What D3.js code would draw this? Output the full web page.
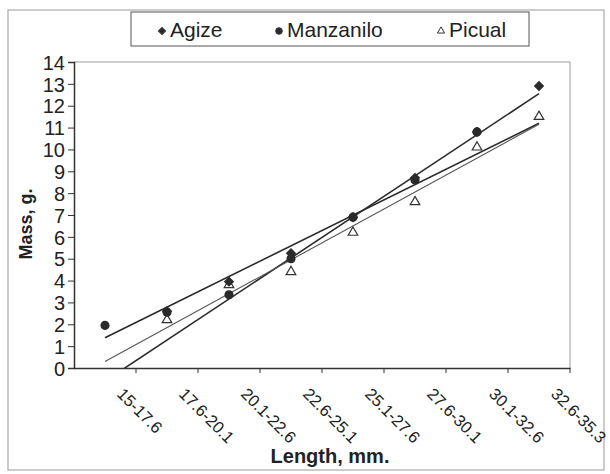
<!DOCTYPE html>
<html>
<head>
<meta charset="utf-8">
<script src="https://cdn.jsdelivr.net/npm/d3@7"></script>
<style>
  body { margin: 0; background: #fff; }
  text { font-family: "Liberation Sans", Arial, sans-serif; fill: #222; }
</style>
</head>
<body>
<div id="chart"></div>
<script>
const categories = ["15-17.6", "17.6-20.1", "20.1-22.6", "22.6-25.1", "25.1-27.6", "27.6-30.1", "30.1-32.6", "32.6-35.3"];
const yTicks = d3.range(0, 15);

// values (null = no visible marker)
const agize = [null, 2.6, 3.95, 5.25, 6.9, 8.7, 10.8, 12.9];
const manzanilo = [1.95, 2.55, 3.35, 5.0, 6.9, 8.6, 10.8, null];
const picual = [null, 2.2, 3.8, 4.4, 6.2, 7.6, 10.1, 11.5];

// trend lines: [value at first category, value at last category]
const agizeTrend = [-0.6, 12.55];
const manzaniloTrend = [1.38, 11.2];
const picualTrend = [0.3, 11.15];

const W = 610, H = 474;
const plot = { left: 74, right: 570, top: 62, bottom: 368 };

const svg = d3.select("#chart").append("svg")
  .attr("width", W).attr("height", H);

// outer frame
svg.append("rect")
  .attr("x", 8).attr("y", 10).attr("width", 596).attr("height", 460)
  .attr("fill", "#fff").attr("stroke", "#999").attr("stroke-width", 1);

const x = d3.scaleBand().domain(categories).range([plot.left, plot.right]);
const y = d3.scaleLinear().domain([0, 14]).range([plot.bottom, plot.top]);
const cx = i => x(categories[i]) + x.bandwidth() / 2;

// plot frame (top / right)
svg.append("path")
  .attr("d", `M${plot.left},${plot.top}H${plot.right}V${plot.bottom}`)
  .attr("fill", "none").attr("stroke", "#999");

// y axis
const yAxis = svg.append("g")
  .attr("transform", `translate(${plot.left},0)`)
  .call(d3.axisLeft(y).tickValues(yTicks).tickSize(6).tickPadding(3));
yAxis.select(".domain").attr("stroke", "#333").attr("stroke-width", 1.5);
yAxis.selectAll(".tick line").attr("stroke", "#333");
yAxis.selectAll("text")
  .attr("font-size", 20)
  .attr("font-family", "Liberation Sans Narrow, Liberation Sans, Arial, sans-serif")
  .attr("fill", "#222")
  .attr("dy", "0.36em");

// x axis
const xAxis = svg.append("g")
  .attr("transform", `translate(0,${plot.bottom})`)
  .call(d3.axisBottom(x).tickSize(0).tickFormat(""));
xAxis.select(".domain").attr("stroke", "#333").attr("stroke-width", 1.5);
xAxis.selectAll(".tick").remove();
categories.forEach((c, i) => {
  if (i === 0) return;
  const bx = x(c);
  xAxis.append("line").attr("x1", bx).attr("x2", bx).attr("y1", 0).attr("y2", 5).attr("stroke", "#333");
});
xAxis.append("line").attr("x1", plot.right).attr("x2", plot.right).attr("y1", 0).attr("y2", 5).attr("stroke", "#333");

svg.append("g").selectAll("text")
  .data(categories).join("text")
  .attr("transform", (d, i) => `translate(${cx(i) + 11},${plot.bottom + 27}) rotate(45)`)
  .attr("font-size", 16.5)
  .text(d => d);

// axis titles
svg.append("text")
  .attr("transform", `translate(32,224) rotate(-90)`)
  .attr("text-anchor", "middle")
  .attr("font-size", 18).attr("font-weight", "bold")
  .text("Mass, g.");

svg.append("text")
  .attr("x", 330).attr("y", 463)
  .attr("text-anchor", "middle")
  .attr("font-size", 20).attr("font-weight", "bold")
  .text("Length, mm.");

// trend lines, clipped to the plot area
svg.append("clipPath").attr("id", "plotclip")
  .append("rect").attr("x", plot.left).attr("y", plot.top)
  .attr("width", plot.right - plot.left).attr("height", plot.bottom - plot.top);

const lines = svg.append("g").attr("clip-path", "url(#plotclip)");
[[agizeTrend, "#2a2a2a", 1.6], [manzaniloTrend, "#2a2a2a", 1.6], [picualTrend, "#555", 1.1]].forEach(([v, s, w]) => {
  lines.append("line")
    .attr("x1", cx(0)).attr("y1", y(v[0]))
    .attr("x2", cx(categories.length - 1)).attr("y2", y(v[1]))
    .attr("stroke", s).attr("stroke-width", w);
});

// markers
const diamond = d3.symbol().type(d3.symbolSquare).size(38);
const circle = d3.symbol().type(d3.symbolCircle).size(50);
const triangle = d3.symbol().type(d3.symbolTriangle).size(40);

const pts = (vals, sym, fill, stroke, rot) => {
  svg.append("g").selectAll("path")
    .data(vals.map((v, i) => ({ v, i })).filter(d => d.v !== null))
    .join("path")
    .attr("transform", d => `translate(${cx(d.i)},${y(d.v)}) rotate(${rot})`)
    .attr("d", sym)
    .attr("fill", fill).attr("stroke", stroke).attr("stroke-width", 1.2);
};
pts(picual, triangle, "#fff", "#333", 0);
pts(manzanilo, circle, "#2a2a2a", "#2a2a2a", 0);
pts(agize, diamond, "#2a2a2a", "#2a2a2a", 45);

// legend
const lg = svg.append("g");
lg.append("rect")
  .attr("x", 131).attr("y", 12).attr("width", 398).attr("height", 34)
  .attr("fill", "#fff").attr("stroke", "#555").attr("stroke-width", 1);
const legendItems = [
  { name: "Agize", sym: d3.symbol().type(d3.symbolSquare).size(26), rot: 45, fill: "#2a2a2a", mx: 162 },
  { name: "Manzanilo", sym: d3.symbol().type(d3.symbolCircle).size(34), rot: 0, fill: "#2a2a2a", mx: 279 },
  { name: "Picual", sym: d3.symbol().type(d3.symbolTriangle).size(22), rot: 0, fill: "#fff", mx: 441 }
];
legendItems.forEach(d => {
  lg.append("path")
    .attr("transform", `translate(${d.mx},31) rotate(${d.rot})`)
    .attr("d", d.sym)
    .attr("fill", d.fill).attr("stroke", "#333").attr("stroke-width", 1);
  lg.append("text")
    .attr("x", d.mx + 8).attr("y", 37)
    .attr("font-size", 21)
    .text(d.name);
});
</script>
</body>
</html>
